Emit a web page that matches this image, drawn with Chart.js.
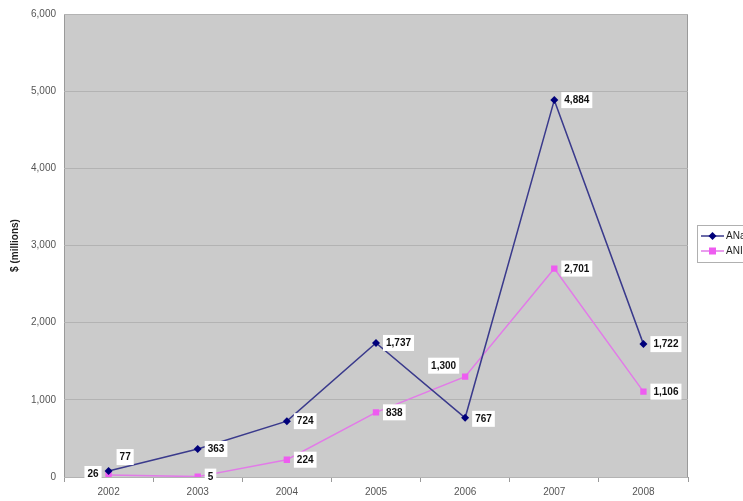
<!DOCTYPE html>
<html><head><meta charset="utf-8">
<script src="https://cdn.jsdelivr.net/npm/chart.js@4"></script>
<style>html,body{margin:0;padding:0;background:#fff;overflow:hidden}#wrap{width:743px;height:501px}</style>
</head><body><div id="wrap"><canvas id="c" width="743" height="501"></canvas></div>
<script>
const years = ['2002','2003','2004','2005','2006','2007','2008'];
const seriesANames = ['ANa', 'ANI'];
const seriesA = [77, 363, 724, 1737, 767, 4884, 1722];
const seriesB = [26, 5, 224, 838, 1300, 2701, 1106];
const labelPosA = ['aboveRight','right','right','right','belowRight','right','right'];
const labelPosB = ['left','right','right','right','aboveLeft','right','right'];
const yTicks = [0,1000,2000,3000,4000,5000,6000];

const FONT = '"Liberation Sans", Arial, sans-serif';
const navyLine = '#3a3a8c', navyMark = '#00007a';
const magLine = '#e27be8', magMark = '#ee5cf0';

const plotBg = {
  id:'plotBg',
  beforeDraw(chart){
    const {ctx, chartArea:a} = chart;
    ctx.save();
    ctx.fillStyle = '#cbcbcb';
    ctx.fillRect(a.left, a.top, a.right-a.left, a.bottom-a.top);
    ctx.strokeStyle = '#9a9a9a'; ctx.lineWidth = 1;
    ctx.strokeRect(a.left+0.5, a.top+0.5, a.right-a.left-1, a.bottom-a.top);
    ctx.restore();
  }
};

function fmt(v){ return v.toLocaleString('en-US'); }

const dataLabels = {
  id:'dataLabels',
  afterDatasetsDraw(chart){
    const ctx = chart.ctx;
    ctx.save();
    ctx.font = 'bold 10px ' + FONT;
    ctx.textBaseline = 'middle';
    const sets = [[0,seriesA,labelPosA],[1,seriesB,labelPosB]];
    sets.forEach(([di, vals, pos]) => {
      const meta = chart.getDatasetMeta(di);
      meta.data.forEach((pt, i) => {
        const txt = fmt(vals[i]);
        const w = ctx.measureText(txt).width + 6, h = 16;
        let x, y;
        const p = pos[i];
        if (p === 'right'){ x = pt.x + 7; y = pt.y - h/2; }
        else if (p === 'left'){ x = pt.x - 7 - w; y = pt.y - h/2 - 1; }
        else if (p === 'aboveRight'){ x = pt.x + 8; y = pt.y - h - 6; }
        else if (p === 'belowRight'){ x = pt.x + 7; y = pt.y - h/2 + 1; }
        else if (p === 'aboveLeft'){ x = pt.x - 6 - w; y = pt.y - h - 3; }
        ctx.fillStyle = '#ffffff';
        ctx.fillRect(x, y, w, h);
        ctx.fillStyle = '#111111';
        ctx.textAlign = 'left';
        ctx.fillText(txt, x + 3, y + h/2 + 0.5);
      });
    });
    ctx.restore();
  }
};

const customLegend = {
  id:'customLegend',
  afterDraw(chart){
    const ctx = chart.ctx;
    ctx.save();
    const x0 = 697, y0 = 225, w = 80, h = 37;
    ctx.fillStyle = '#ffffff';
    ctx.fillRect(x0, y0, w, h);
    ctx.strokeStyle = '#b0b0b0'; ctx.lineWidth = 1;
    ctx.strokeRect(x0+0.5, y0+0.5, w, h);
    const rows = [
      {y: y0+11, line: navyLine, mark: navyMark, shape:'diamond', text: seriesANames[0]},
      {y: y0+26, line: magLine, mark: magMark, shape:'square', text: seriesANames[1]}
    ];
    ctx.font = '10px ' + FONT;
    ctx.textBaseline = 'middle';
    rows.forEach(r => {
      ctx.strokeStyle = r.line; ctx.lineWidth = 1.5;
      ctx.beginPath(); ctx.moveTo(701, r.y); ctx.lineTo(724, r.y); ctx.stroke();
      ctx.fillStyle = r.mark;
      if (r.shape === 'diamond'){
        ctx.beginPath(); ctx.moveTo(712.5, r.y-4); ctx.lineTo(716.5, r.y); ctx.lineTo(712.5, r.y+4); ctx.lineTo(708.5, r.y); ctx.closePath(); ctx.fill();
      } else {
        ctx.fillRect(709, r.y-3.5, 7, 7);
      }
      ctx.fillStyle = '#222';
      ctx.fillText(r.text, 726, r.y + 0.5);
    });
    ctx.restore();
  }
};

new Chart(document.getElementById('c'), {
  type:'line',
  data:{
    labels: years,
    datasets:[
      {label: seriesANames[0], data: seriesA, borderColor: navyLine, backgroundColor: navyMark, borderWidth: 1.5,
       pointStyle:'rectRot', pointRadius: 4, pointBorderWidth: 0, pointBackgroundColor: navyMark, tension: 0},
      {label: seriesANames[1], data: seriesB, borderColor: magLine, backgroundColor: magMark, borderWidth: 1.5,
       pointStyle:'rect', pointRadius: 4.5, pointBorderWidth: 0, pointBackgroundColor: magMark, tension: 0}
    ]
  },
  options:{
    responsive:false, animation:false,
    layout:{padding:{top:13, right:55, bottom:0, left:9}},
    plugins:{legend:{display:false}, tooltip:{enabled:false}},
    scales:{
      x:{
        offset:true,
        grid:{display:true, drawOnChartArea:false, drawTicks:true, tickLength:5, offset:true, color:'#9a9a9a'},
        border:{display:false},
        ticks:{color:'#555', font:{family:FONT, size:10}, padding:4, maxRotation:0},
        afterFit(s){ s.height = 24; }
      },
      y:{
        min:0, max:6000,
        afterBuildTicks(s){ s.ticks = yTicks.map(v=>({value:v})); },
        grid:{color:'#b3b3b3', drawTicks:false, lineWidth:1},
        border:{display:false},
        ticks:{color:'#555', font:{family:FONT, size:10}, padding:8, callback:v=>fmt(v)},
        title:{display:true, text:'$ (millions)', color:'#222', font:{family:FONT, size:10, weight:'bold'}, padding:{top:0,bottom:6}},
        afterFit(s){ s.width = 55; }
      }
    }
  },
  plugins:[plotBg, dataLabels, customLegend]
});
</script></body></html>
